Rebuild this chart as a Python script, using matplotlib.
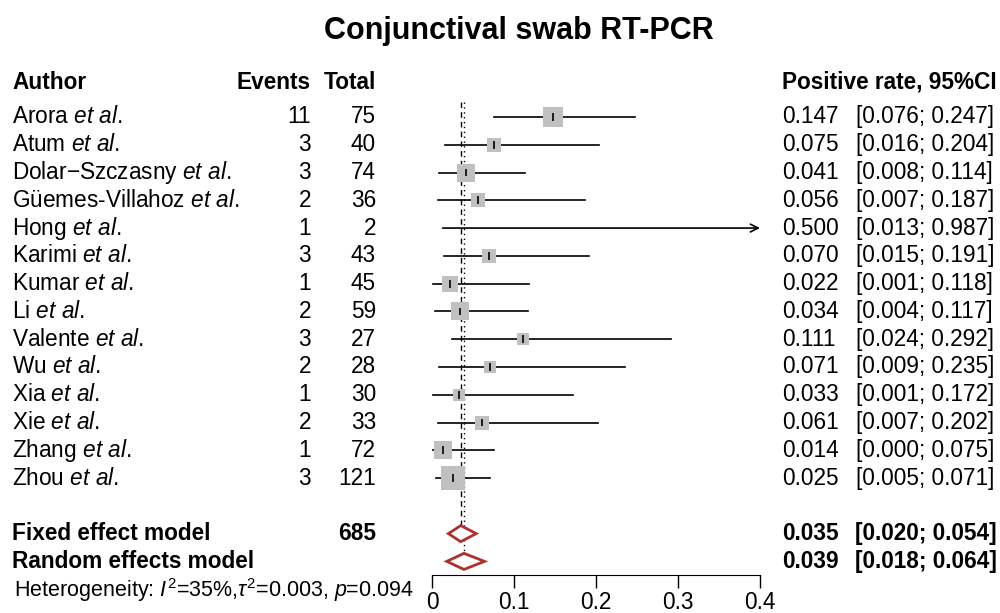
import matplotlib

matplotlib.use("Agg")
import matplotlib.pyplot as plt
from matplotlib.patches import Polygon
from matplotlib.transforms import blended_transform_factory

plt.rcParams["font.family"] = ["Liberation Sans", "DejaVu Sans"]
plt.rcParams["mathtext.fontset"] = "custom"
plt.rcParams["mathtext.rm"] = "Liberation Sans"
plt.rcParams["mathtext.it"] = "Liberation Sans:italic"
plt.rcParams["mathtext.bf"] = "Liberation Sans:bold"

# data
authors = ["Arora", "Atum", "Dolar\u2212Szczasny", "Güemes-Villahoz", "Hong", "Karimi",
           "Kumar", "Li", "Valente", "Wu", "Xia", "Xie", "Zhang", "Zhou"]
events = [11, 3, 3, 2, 1, 3, 1, 2, 3, 2, 1, 2, 1, 3]
totals = [75, 40, 74, 36, 2, 43, 45, 59, 27, 28, 30, 33, 72, 121]
est = [0.147, 0.075, 0.041, 0.056, 0.500, 0.070, 0.022, 0.034, 0.111, 0.071, 0.033, 0.061, 0.014, 0.025]
ci_lo = [0.076, 0.016, 0.008, 0.007, 0.013, 0.015, 0.001, 0.004, 0.024, 0.009, 0.001, 0.007, 0.000, 0.005]
ci_hi = [0.247, 0.204, 0.114, 0.187, 0.987, 0.191, 0.118, 0.117, 0.292, 0.235, 0.172, 0.202, 0.075, 0.071]
weights = [11.2, 6.1, 10.1, 5.3, 0.2, 6.1, 7.0, 9.0, 4.5, 4.5, 4.5, 5.3, 10.1, 16.5]

fixed = (0.035, 0.020, 0.054)
random_ = (0.039, 0.018, 0.064)
total_n = 685
het_text = r"Heterogeneity: $I^2$=35%,$\tau^2$=0.003, $p$=0.094"
xticks = [0, 0.1, 0.2, 0.3, 0.4]
xmax = 0.4

FS = 16.3
RED = "#b03030"

fig = plt.figure(figsize=(10, 6.13), dpi=100)
# forest axes: x=0 at 432px, x=0.4 at 760px; rows 27.8px apart
ax = fig.add_axes([0.432, 1 - 575 / 613, 0.328, (575 - 70) / 613])
ax.set_xlim(0, xmax)
ax.set_ylim(16.49, -1.69)
tr = blended_transform_factory(fig.transFigure, ax.transData)

n = len(authors)
rows = list(range(n))
y_fixed, y_rand, y_het, y_head = n + 1, n + 2, n + 3.03, -1.25

# reference lines
h = 0.29
ax.vlines(fixed[0], -0.55, y_fixed - h, colors="black", linestyles=(0, (4, 3)), lw=1)
ax.vlines(random_[0], -0.55, y_rand - h, colors="black", linestyles=(0, (1, 2.5)), lw=1)

for i, y in enumerate(rows):
    if ci_hi[i] > xmax:
        ax.annotate("", xy=(xmax, y), xytext=(ci_lo[i], y),
                    arrowprops=dict(arrowstyle="->", lw=1.2, color="black",
                                    mutation_scale=14, shrinkA=0, shrinkB=0))
    else:
        ax.plot([ci_lo[i], ci_hi[i]], [y, y], color="black", lw=1.2, zorder=2)
    if est[i] <= xmax:
        side_pt = 5.68 * weights[i] ** 0.5 * 0.72
        ax.scatter(est[i], y, s=side_pt ** 2, marker="s", color="#c0c0c0", zorder=3, lw=0)
        ax.vlines(est[i], y - 0.14, y + 0.14, colors="black", lw=1.2, zorder=4)

for (e, lo, hi), y in [(fixed, y_fixed), (random_, y_rand)]:
    ax.add_patch(Polygon([(lo, y), (e, y - h), (hi, y), (e, y + h)], closed=True,
                         facecolor="white", edgecolor=RED, lw=2, zorder=5))

for s in ["top", "left", "right"]:
    ax.spines[s].set_visible(False)
ax.spines["bottom"].set_bounds(0, xmax)
ax.set_yticks([])
ax.set_xticks(xticks)
ax.set_xticklabels(["0", "0.1", "0.2", "0.3", "0.4"], fontsize=FS)
ax.tick_params(axis="x", length=9.4, width=1, pad=2)

# left and right tables
kw = dict(transform=tr, fontsize=FS, va="center", clip_on=False)
ax.text(0.012, y_head, "Author", fontweight="bold", ha="left", **kw)
ax.text(0.311, y_head, "Events", fontweight="bold", ha="right", **kw)
ax.text(0.376, y_head, "Total", fontweight="bold", ha="right", **kw)
ax.text(0.997, y_head, "Positive rate, 95%CI", fontweight="bold", ha="right", **kw)

for i, y in enumerate(rows):
    ax.text(0.012, y, authors[i] + r" $\mathit{et\ al.}$", ha="left", **kw)
    ax.text(0.311, y, str(events[i]), ha="right", **kw)
    ax.text(0.376, y, str(totals[i]), ha="right", **kw)
    ax.text(0.782, y, f"{est[i]:.3f}", ha="left", **kw)
    ax.text(0.856, y, f"[{ci_lo[i]:.3f}; {ci_hi[i]:.3f}]", ha="left", **kw)

for label, (e, lo, hi), y in [("Fixed effect model", fixed, y_fixed),
                              ("Random effects model", random_, y_rand)]:
    ax.text(0.012, y, label, fontweight="bold", ha="left", **kw)
    ax.text(0.782, y, f"{e:.3f}", fontweight="bold", ha="left", **kw)
    ax.text(0.997, y, f"[{lo:.3f}; {hi:.3f}]", fontweight="bold", ha="right", **kw)
ax.text(0.376, y_fixed, str(total_n), fontweight="bold", ha="right", **kw)
ax.text(0.014, y_het, het_text, ha="left", **dict(kw, fontsize=15.5))

fig.text(0.519, 1 - 31 / 613, "Conjunctival swab RT-PCR", fontsize=22,
         fontweight="bold", ha="center", va="center")

fig.savefig("out.png", dpi=100)
